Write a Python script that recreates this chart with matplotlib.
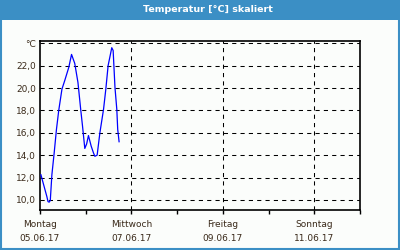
import matplotlib
matplotlib.use('Agg')
import matplotlib.pyplot as plt
from matplotlib.patches import Rectangle

# temperature readings, time in days after Mon 05.06.17 00:00
t_days = [0.02, 0.09, 0.15, 0.175, 0.20, 0.225, 0.26, 0.31, 0.36, 0.41, 0.48, 0.54, 0.63, 0.69,
          0.76, 0.83, 0.89, 0.93, 0.98, 1.02, 1.06, 1.12, 1.17, 1.20, 1.25, 1.31,
          1.39, 1.44, 1.49, 1.57, 1.60, 1.64, 1.68, 1.70, 1.73]
temp = [12.25, 11.2, 10.3, 9.85, 9.8, 9.95, 12.25, 14.2, 16.3, 18.0, 19.9, 20.65, 21.85, 23.0,
        22.2, 20.5, 18.1, 16.6, 14.6, 15.0, 15.75, 14.8, 14.2, 13.9, 14.0, 16.0,
        18.1, 19.9, 22.0, 23.6, 23.35, 20.05, 18.1, 16.3, 15.2]

y_ticks = [10, 12, 14, 16, 18, 20, 22, 24]
y_labels = ['10,0', '12,0', '14,0', '16,0', '18,0', '20,0', '22,0', '°C']
day_ticks = [0, 2, 4, 6]
day_labels = ['Montag\n05.06.17', 'Mittwoch\n07.06.17', 'Freitag\n09.06.17', 'Sonntag\n11.06.17']
title = 'Temperatur [°C] skaliert'

blue = '#3b8fc5'
bg = '#fbfdfb'
txt = '#3a2a1a'

fig = plt.figure(figsize=(4, 2.5), dpi=100, facecolor=bg)

# title bar and frame
fig.patches.append(Rectangle((0, 0.92), 1, 0.08, transform=fig.transFigure,
                             facecolor=blue, edgecolor='none'))
fig.patches.append(Rectangle((0.0025, 0.004), 0.994, 0.99, transform=fig.transFigure,
                             facecolor='none', edgecolor=blue, linewidth=1.5))
fig.text(0.52, 0.96, title, color='white', fontsize=6.8, fontweight='bold',
         ha='center', va='center', family='DejaVu Sans')

ax = fig.add_axes([0.1, 0.16, 0.8, 0.676])
ax.set_facecolor(bg)
ax.plot(t_days, temp, color='#0000ff', linewidth=0.9, zorder=3)

ax.set_xlim(0, 7)
ax.set_ylim(9.1, 24.2)

ax.set_yticks(y_ticks)
ax.set_yticklabels(y_labels, fontsize=6.5, color=txt)
ax.tick_params(axis='y', length=0, pad=3)

ax.set_xticks(range(8))
ax.set_xticklabels(['' for _ in range(8)])
ax.tick_params(axis='x', length=3, width=1, color='black', direction='out')
for d, lab in zip(day_ticks, day_labels):
    ax.text(d, -0.06, lab, transform=ax.get_xaxis_transform(), ha='center', va='top',
            fontsize=6.5, color=txt, linespacing=1.66)

for y in y_ticks:
    ax.axhline(y, color='black', linewidth=0.75, linestyle=(0, (4, 4)), zorder=1)
for d in day_ticks[1:]:
    ax.axvline(d, color='black', linewidth=0.75, linestyle=(0, (4, 4)), zorder=1)

for s in ax.spines.values():
    s.set_color('black')
    s.set_linewidth(1.2)

fig.savefig('out.png', dpi=100, facecolor=bg)
